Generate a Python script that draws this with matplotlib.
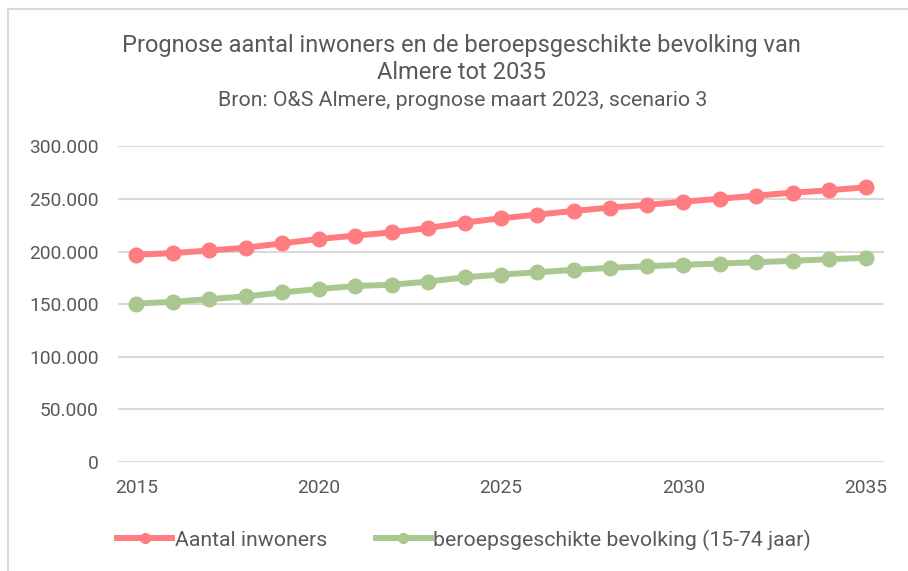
import matplotlib
matplotlib.use("Agg")
import matplotlib.pyplot as plt
from matplotlib.lines import Line2D
from matplotlib.ticker import FuncFormatter

plt.rcParams['font.family'] = ['Roboto', 'DejaVu Sans']

years = list(range(2015, 2036))
inwoners = [197000, 198500, 201000, 203600, 207800, 211900, 215100, 218200,
            222300, 227500, 231600, 235100, 238600, 241800, 244400, 247300,
            250200, 253100, 256000, 258200, 261100]
beroeps = [150600, 152200, 154800, 157300, 161100, 164400, 167200, 168500,
           171400, 175500, 178100, 180300, 182600, 184500, 186000, 187400,
           188600, 189800, 191200, 192700, 194000]
labels = ['Aantal inwoners', 'beroepsgeschikte bevolking (15-74 jaar)']
title = 'Prognose aantal inwoners en de beroepsgeschikte bevolking van\nAlmere tot 2035'
subtitle = 'Bron: O&S Almere, prognose maart 2023, scenario 3'

red = '#ff7c80'
green = '#a9c78e'
grey_text = '#595959'
grid = '#d9d9d9'

W, H = 908, 571
fig = plt.figure(figsize=(W / 100, H / 100), dpi=100)

# chart border (left and top visible)
fig.add_artist(Line2D([8 / W, 8 / W], [0, 1 - 9 / H], color=grid, lw=1.5))
fig.add_artist(Line2D([8 / W, 1], [1 - 9 / H, 1 - 9 / H], color=grid, lw=1.5))

ax = fig.add_axes([118 / W, 1 - 462 / H, (884 - 118) / W, (462 - 146.3) / H])
ax.plot(years, inwoners, color=red, lw=4.3, marker='o', ms=10.5, label=labels[0], zorder=3)
ax.plot(years, beroeps, color=green, lw=4.3, marker='o', ms=10.5, label=labels[1], zorder=3)

ax.set_xlim(2014.5, 2035.5)
ax.set_ylim(0, 300000)
ax.set_yticks(range(0, 300001, 50000))
ax.set_xticks(range(2015, 2036, 5))
ax.yaxis.set_major_formatter(FuncFormatter(lambda v, p: f'{int(v):,}'.replace(',', '.')))
ax.grid(axis='y', color=grid, lw=1.5)
ax.set_axisbelow(True)
for s in ax.spines.values():
    s.set_visible(False)
ax.tick_params(length=0, labelsize=13.8, colors=grey_text)
ax.tick_params(axis='y', pad=14)
ax.tick_params(axis='x', pad=12)

fig.text(0.508, 1 - 59 / H, title, ha='center', va='center', fontsize=17,
         color=grey_text, linespacing=1.2)
fig.text(0.509, 1 - 101 / H, subtitle, ha='center', va='center', fontsize=15.3,
         color=grey_text)

leg = fig.legend(loc='center', bbox_to_anchor=(0.511, 1 - 540 / H), ncol=2,
                 frameon=False, fontsize=15.3, handlelength=2.6,
                 handletextpad=0.1, columnspacing=2.3, labelcolor=grey_text)
for h in leg.legend_handles:
    h.set_markersize(7)

fig.savefig('out.png', dpi=100)
